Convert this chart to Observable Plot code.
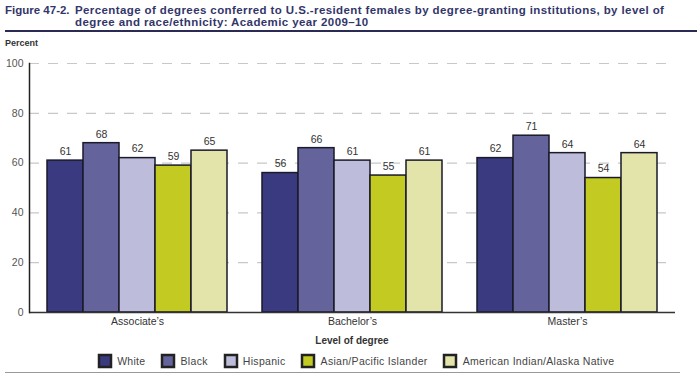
<!DOCTYPE html>
<html>
<head>
<meta charset="utf-8">
<script src="https://cdn.jsdelivr.net/npm/d3@7"></script>
<script src="https://cdn.jsdelivr.net/npm/@observablehq/plot@0.6"></script>
<style>
  body { margin: 0; background: #fff; font-family: "Liberation Sans", Arial, sans-serif; }
  #wrap { position: relative; width: 700px; height: 383px; overflow: hidden; }
  .title { position: absolute; left: 5px; top: 4px; font-size: 11.5px; font-weight: bold; color: #33366a; line-height: 12px; }
  .title .num { position: absolute; left: 0; top: 0; width: 70px; }
  .title .txt { position: absolute; left: 70px; top: 0; width: 615px; letter-spacing: 0.4px; }
  .rule1 { position: absolute; left: 5px; top: 30px; width: 692px; height: 2px; background: #2a2b55; }
  .ylab { position: absolute; left: 5px; top: 38px; font-size: 9px; font-weight: bold; color: #333; }
  .xlab { position: absolute; left: 29px; width: 646px; top: 335px; text-align: center; font-size: 10px; font-weight: bold; color: #333; }
  #chart, #bg { position: absolute; left: 0; top: 52px; }
  #legend { position: absolute; left: 0; top: 353px; width: 700px; }
  .rule2 { position: absolute; left: 5px; top: 372px; width: 675px; height: 1px; background: #999; }
</style>
</head>
<body>
<div id="wrap">
  <div class="title"><div class="num">Figure 47-2.</div><div class="txt">Percentage of degrees conferred to U.S.-resident females by degree-granting institutions, by level of degree and race/ethnicity: Academic year 2009–10</div></div>
  <div class="rule1"></div>
  <div class="ylab">Percent</div>
  <div id="bg"></div>
  <div id="chart"></div>
  <div class="xlab">Level of degree</div>
  <div id="legend"></div>
  <div class="rule2"></div>
</div>
<script>
const degrees = ["Associate’s", "Bachelor’s", "Master’s"];
const groups = ["White", "Black", "Hispanic", "Asian/Pacific Islander", "American Indian/Alaska Native"];
const colors = ["#3a3a80", "#64639c", "#bdbcda", "#c3cb22", "#e2e4a9"];
const associates = [61, 68, 62, 59, 65];
const bachelors = [56, 66, 61, 55, 61];
const masters = [62, 71, 64, 54, 64];
const yTicks = [0, 20, 40, 60, 80, 100];

const seriesByDegree = [associates, bachelors, masters];
const data = degrees.flatMap((d, i) => groups.map((g, j) => ({degree: d, group: g, value: seriesByDegree[i][j]})));

const common = {
  width: 700,
  height: 280,
  marginTop: 11,
  marginBottom: 20,
  marginLeft: 29,
  marginRight: 25,
  style: {fontFamily: "Liberation Sans, Arial, sans-serif", fontSize: "10px", color: "#333", background: "transparent"}
};

// background: continuous gridlines and y axis labels
const bg = Plot.plot({
  ...common,
  y: {domain: [0, 100], ticks: yTicks, label: null},
  marks: [
    Plot.ruleY(yTicks.filter(t => t > 0), {stroke: "#c8c8c8", strokeDasharray: "10,9", strokeWidth: 1.2}),
    Plot.axisY({ticks: yTicks, tickSize: 0, tickPadding: 6, label: null, fill: "#555", fontSize: 10.5})
  ]
});
document.getElementById("bg").appendChild(bg);

const chart = Plot.plot({
  ...common,
  fx: {domain: degrees, paddingInner: 0.165, paddingOuter: 0.08, label: null},
  x: {domain: groups, padding: 0, axis: null, label: null},
  y: {domain: [0, 100], ticks: yTicks, label: null, axis: null},
  color: {domain: groups, range: colors},
  marks: [
    Plot.barY(data, {fx: "degree", x: "group", y: "value", fill: "group", stroke: "#1a1a2a", strokeWidth: 1.5}),
    Plot.text(data, {fx: "degree", x: "group", y: "value", text: d => String(d.value), dy: -9, fontSize: 10.5, fill: "#333"}),
    Plot.axisFx({anchor: "bottom", tickSize: 0, tickPadding: 5, fontSize: 10.5, label: null})
  ]
});
document.getElementById("chart").appendChild(chart);

// overlay: axis line and baseline drawn over the bars
const fg = Plot.plot({
  ...common,
  y: {domain: [0, 100], axis: null, label: null},
  marks: [
    Plot.ruleY([0], {stroke: "#333", strokeWidth: 1.5}),
    Plot.frame({anchor: "left", stroke: "#222", strokeWidth: 1.5})
  ]
});
fg.style.position = "absolute";
fg.style.left = "0px";
fg.style.top = "0px";
document.getElementById("chart").appendChild(fg);

const legend = Plot.legend({
  color: {type: "categorical", domain: groups, range: colors},
  swatchSize: 12,
  className: "lg"
});
document.getElementById("legend").appendChild(legend);
</script>
<style>
  #legend > div { justify-content: center; display: flex; font-size: 10.5px; color: #444; font-family: "Liberation Sans", Arial, sans-serif; margin-left: 0 !important; padding-left: 30px; min-height: 16px; letter-spacing: 0.3px; }
  #legend span { margin-right: 1.6em !important; }
  #legend svg { margin-right: 0.6em !important; }
  #legend svg rect { stroke: #222; stroke-width: 2.5; }
</style>
</body>
</html>
